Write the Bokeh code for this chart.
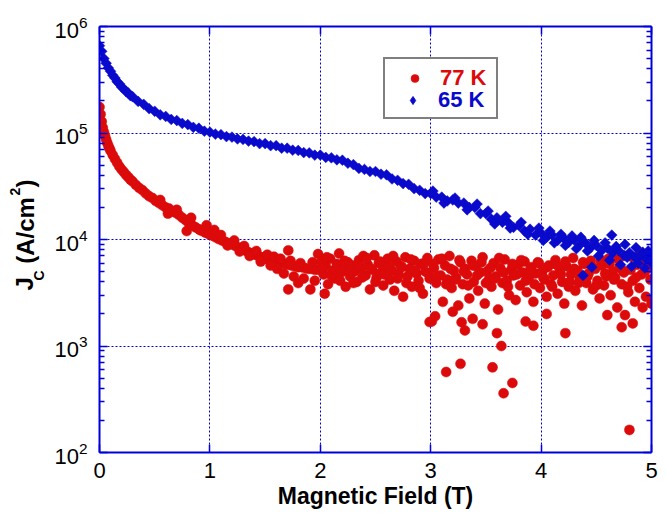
import math
from bokeh.plotting import figure
from bokeh.models import (LinearAxis, FixedTicker, Legend, LegendItem,
                          ColumnDataSource, LogTickFormatter, CustomJSTickFormatter)
from bokeh.embed import file_html
from bokeh.resources import INLINE

# ---------------- data ----------------
field_77 = [
    0.00, 0.01, 0.02, 0.03, 0.04, 0.05, 0.06, 0.07, 0.08, 0.09, 0.10, 0.12, 0.14, 0.16, 0.18, 0.20,
    0.22, 0.24, 0.26, 0.28, 0.30, 0.33, 0.36, 0.39, 0.42, 0.45, 0.48, 0.51, 0.54, 0.57, 0.60, 0.63,
    0.66, 0.69, 0.72, 0.75, 0.78, 0.81, 0.84, 0.87, 0.90, 0.93, 0.96, 0.99, 1.02, 1.05, 1.08, 1.11,
    1.14, 1.17, 1.20, 1.23, 1.26, 1.29, 1.32, 1.35, 1.38, 1.41, 1.44, 1.47, 1.50, 1.53, 1.56, 1.59,
    1.62, 1.65, 1.68, 1.71, 1.74, 1.77, 1.80, 1.83, 1.86, 1.89, 1.92, 1.95, 1.98,
    0.55, 0.62, 0.70, 0.79, 0.83, 0.91, 0.97,
    1.04, 1.10, 1.16, 1.22, 1.27, 1.31, 1.36, 1.42, 1.46, 1.52, 1.55, 1.58, 1.61, 1.64, 1.67, 1.71,
    1.71, 1.73, 1.76, 1.80, 1.82, 1.85, 1.91, 1.93, 1.95, 1.98, 2.04,
    2.01, 2.03, 2.05, 2.07, 2.09, 2.11, 2.13, 2.15, 2.17, 2.19, 2.21, 2.23, 2.25, 2.27, 2.29, 2.31,
    2.33, 2.35, 2.37, 2.39, 2.41, 2.43, 2.45, 2.47, 2.49, 2.51, 2.53, 2.55, 2.57, 2.59, 2.61, 2.63,
    2.65, 2.67, 2.69, 2.71, 2.73, 2.75, 2.77, 2.79, 2.81, 2.83, 2.85, 2.87, 2.89, 2.91, 2.93, 2.95,
    2.97, 2.99, 3.01, 3.03, 3.05, 3.07, 3.09, 3.11, 3.13, 3.15, 3.17, 3.19, 3.21, 3.23, 3.25, 3.27,
    3.29, 3.31, 3.33, 3.35, 3.37, 3.39, 3.41, 3.43, 3.45, 3.47, 3.49, 3.51, 3.53, 3.55, 3.57, 3.59,
    3.61, 3.63, 3.65, 3.67, 3.69, 3.71, 3.73, 3.75, 3.77, 3.79, 3.81, 3.83, 3.85, 3.87, 3.89, 3.91,
    3.93, 3.95, 3.97, 3.99, 4.01, 4.03, 4.05, 4.07, 4.09, 4.11, 4.13, 4.15, 4.17, 4.19, 4.21, 4.23,
    4.25, 4.27, 4.29, 4.31, 4.33, 4.35, 4.37, 4.39, 4.41, 4.43, 4.45, 4.47, 4.49, 4.51, 4.53, 4.55,
    4.57, 4.59, 4.61, 4.63, 4.65, 4.67, 4.69, 4.71, 4.73, 4.75, 4.77, 4.79, 4.81, 4.83, 4.85, 4.87,
    4.89, 4.91, 4.93, 4.95, 4.97, 4.99, 5.00,
    2.02, 2.06, 2.10, 2.14, 2.18, 2.22, 2.26, 2.30, 2.34, 2.38, 2.42, 2.46, 2.50, 2.54, 2.58, 2.62,
    2.66, 2.70, 2.74, 2.78, 2.82, 2.86, 2.90, 2.94, 2.98, 3.02, 3.06, 3.10, 3.14, 3.18, 3.22, 3.26,
    3.30, 3.34, 3.38, 3.42, 3.46, 3.50, 3.54, 3.58, 3.62, 3.66, 3.70, 3.74, 3.78, 3.82, 3.86, 3.90,
    3.94, 3.98, 4.02, 4.06, 4.10, 4.14, 4.18, 4.22, 4.26, 4.30, 4.34, 4.38, 4.42, 4.46, 4.50, 4.54,
    4.58, 4.62, 4.66, 4.70, 4.74, 4.78, 4.82, 4.86, 4.90, 4.94, 4.98,
    2.99, 3.14, 3.27, 3.28, 3.31, 3.47, 3.56, 3.60, 3.64, 3.66, 3.74, 3.86, 3.93, 4.22, 4.73, 4.80,
    4.83, 3.04, 3.20, 3.38, 4.05, 4.60, 4.76, 4.92,
]
jc_77 = [
    175000, 150000, 128000, 112000, 102000, 94000, 87000, 81000, 76000, 72000, 68000, 62000, 57000, 52500, 48500, 45500,
    43000, 40500, 38500, 36500, 35000, 32500, 30500, 29000, 27000, 25500, 24500, 23000, 22000, 21000, 20000, 19500,
    18500, 17800, 17000, 16000, 15200, 14200, 13600, 13000, 12500, 12000, 11600, 11200, 10900, 10500, 10100, 9800,
    9500, 9200, 9000, 8700, 8400, 8100, 7900, 7600, 7400, 7200, 7000, 6800, 6600, 6500, 6300, 6200,
    6100, 6000, 5900, 5800, 5700, 5600, 5500, 5500, 5400, 5300, 5300, 5200, 5200,
    23500, 17500, 19000, 12000, 16000, 12300, 13600,
    12300, 11000, 8800, 9800, 7700, 8700, 7000, 7800, 6200, 7200, 5700, 6900, 5300, 6600, 4800, 7900,
    3400, 6300, 4500, 3900, 6000, 4300, 3400, 6100, 4100, 7300, 3100,
    6200, 4700, 5600, 3800, 6600, 5100, 4300, 5900, 7400, 4900, 5400, 3600, 6100, 4500, 5700, 5000,
    4000, 6400, 5300, 7000, 4600, 5800, 3400, 5200, 7100, 4400, 6000, 4900, 3700, 5500, 6600, 4200,
    5100, 3300, 6200, 4700, 5600, 2900, 6800, 4500, 5300, 3600, 6300, 4800, 4100, 5900, 3100, 5000,
    6700, 4300, 1700, 5400, 3900, 6500, 4600, 2600, 5700, 4200, 7000, 3500, 5100, 4400, 2400, 6100,
    3800, 5300, 4700, 2800, 6300, 4000, 5600, 3300, 4900, 6800, 2500, 5000, 4300, 3600, 6000, 4500,
    2200, 5400, 3900, 6500, 4100, 3000, 5200, 4600, 2700, 5800, 3700, 4900, 6200, 3200, 4400, 5500,
    2600, 4800, 6100, 3500, 5000, 4200, 2900, 5700, 3800, 4600, 6400, 3100, 5200, 4000, 2500, 5600,
    3600, 4700, 6700, 3300, 5100, 4300, 2400, 5900, 3900, 4800, 6300, 3400, 5300, 4100, 2800, 5700,
    3700, 4500, 6600, 3000, 5000, 4400, 2300, 5500, 3800, 4900, 7000, 3200, 5200, 4100, 2600, 5800,
    3500, 4700, 6400, 2900, 5400, 4200, 2500,
    5400, 6800, 4600, 5200, 4100, 6300, 5000, 3900, 5800, 4400, 6700, 5300, 4000, 6200, 4700, 5600,
    7000, 4300, 5500, 3900, 6500, 5100, 3500, 6000, 4800, 5900, 4500, 6600, 3800, 5300, 4200, 6400,
    5000, 3700, 5700, 4600, 6100, 3900, 5400, 4300, 6700, 4900, 3600, 5900, 4700, 6400, 4100, 5200,
    3800, 6000, 4400, 5500, 3600, 5800, 4700, 6200, 4000, 5300, 3900, 6100, 4500, 5600, 3700, 6300,
    4800, 5900, 4200, 6500, 5100, 3600, 6900, 4400, 7400, 5000, 6600,
    1680, 570, 680, 1670, 1400, 1600, 630, 1320, 1000, 360, 450, 1700, 1550, 1320, 1500, 163,
    1630, 1900, 2100, 1800, 2000, 1950, 1950, 2300,
]

field_65 = [
    0.00, 0.02, 0.04, 0.06, 0.08, 0.10, 0.12, 0.14, 0.16, 0.18, 0.20, 0.22, 0.24, 0.26, 0.28, 0.30,
    0.35, 0.40, 0.45, 0.50, 0.55, 0.60, 0.65, 0.70, 0.75, 0.80, 0.85, 0.90, 0.95, 1.00, 1.05, 1.10,
    1.15, 1.20, 1.25, 1.30, 1.35, 1.40, 1.45, 1.50, 1.55, 1.60, 1.65, 1.70, 1.75, 1.80, 1.85, 1.90,
    1.95, 2.00, 2.05, 2.10, 2.15, 2.20, 2.25, 2.30, 2.35, 2.40, 2.45, 2.50, 2.55, 2.60, 2.65, 2.70,
    2.75, 2.80, 2.85, 2.90, 2.95, 3.00, 3.05, 3.10, 3.15, 3.20, 3.25, 3.30, 3.35, 3.40, 3.45, 3.50,
    3.55, 3.60, 3.65, 3.70, 3.75, 3.80, 3.85, 3.90, 3.95, 4.00, 4.05, 4.10, 4.15, 4.20, 4.25, 4.30,
    4.35, 4.40, 4.45, 4.50, 4.55, 4.60, 4.65, 4.70, 4.75, 4.80, 4.85, 4.90, 4.95, 5.00,
    3.02, 3.12, 3.22, 3.33, 3.42, 3.52, 3.58, 3.68, 3.72, 3.82, 3.88, 3.98, 4.02, 4.08, 4.12, 4.18,
    4.22, 4.28, 4.32, 4.36, 4.38, 4.42, 4.46, 4.48, 4.52, 4.58, 4.62, 4.64, 4.68, 4.72, 4.76, 4.78,
    4.82, 4.86, 4.88, 4.92, 4.94, 4.97, 4.99,
]
jc_65 = [
    660000, 585000, 500000, 452000, 408000, 380000, 348000, 328000, 303000, 290000, 270000, 260000, 245000, 238000, 224000, 219000,
    198000, 186000, 169000, 160000, 148000, 143000, 134000, 131000, 123000, 120000, 113000, 111000, 104000, 102000, 97500, 96500,
    92500, 91500, 88000, 87000, 84000, 83000, 79500, 79500, 76000, 76000, 72000, 72000, 69000, 68500, 65500, 65000,
    62000, 62000, 59000, 58500, 56000, 55500, 52000, 50500, 46500, 45500, 43500, 43500, 41000, 40500, 37000, 36000,
    33500, 33000, 30000, 29000, 27000, 27000, 25000, 25000, 23000, 23500, 22000, 22000, 20000, 20000, 17500, 17500,
    15500, 16000, 14500, 14500, 13000, 13500, 12000, 12500, 11000, 11500, 10500, 11000, 9800, 10400, 9400, 9900,
    8900, 9300, 8400, 8800, 7900, 8300, 7500, 7900, 7100, 7500, 6800, 7100, 6600, 6900,
    28500, 22000, 24500, 19000, 21500, 18500, 14000, 16500, 12800, 14500, 11200, 12800, 9800, 12000, 9300, 11200,
    8800, 10800, 8200, 10500, 4600, 7800, 5500, 9800, 7000, 9300, 6400, 11000, 8600, 5800, 9000, 6800,
    5600, 8400, 6000, 7600, 5400, 7800, 6200,
]

x_ticks = [0, 1, 2, 3, 4, 5]
y_ticks = [1e2, 1e3, 1e4, 1e5, 1e6]
legend_labels = ["77 K", "65 K"]
x_title = "Magnetic Field (T)"
# y title "J_C (A/cm^2)" split into main / subscript / superscript pieces
y_title_main = ["J", "(A/cm", ")"]
y_title_sub = ["C"]
y_title_sup = ["2"]

# ---------------- style ----------------
RED = "#dc0a0a"
BLUE = "#0a0acc"
AXIS = "#0000dd"
FONT = "Liberation Sans"
FRAME_H = 426

p = figure(frame_width=552, frame_height=FRAME_H, x_range=(0, 5), y_range=(1e2, 1e6),
           y_axis_type="log", output_backend="svg", toolbar_location=None,
           min_border_left=99, min_border_right=16, min_border_top=26, min_border_bottom=61)
p.outline_line_color = None
p.background_fill_color = "white"

src77 = ColumnDataSource(dict(x=field_77, y=jc_77))
src65 = ColumnDataSource(dict(x=field_65, y=jc_65))
# one-point diamond used only as the legend key; it sits hidden under the first 65 K marker
key65 = p.scatter(x=field_65[:1], y=jc_65[:1], marker="diamond", size=8,
                  fill_color=BLUE, line_color=BLUE)
r77 = p.scatter("x", "y", source=src77, marker="circle", size=10,
                fill_color=RED, line_color=RED, line_width=0.5)
r65 = p.scatter("x", "y", source=src65, marker="square", size=7.6, angle=math.pi / 4,
                fill_color=BLUE, line_color=BLUE, line_width=0.5)

minor_y = [k * 10 ** e for e in range(2, 6) for k in range(2, 10)]


def style(ax, show_labels):
    ax.axis_line_color = AXIS
    ax.axis_line_width = 2
    ax.major_tick_line_color = AXIS
    ax.major_tick_line_width = 1.5
    ax.major_tick_in = 8
    ax.major_tick_out = 0
    ax.minor_tick_line_color = AXIS
    ax.minor_tick_line_width = 1.5
    ax.minor_tick_in = 5
    ax.minor_tick_out = 0
    ax.major_label_text_font = FONT
    ax.major_label_text_color = "black"
    if show_labels:
        ax.major_label_text_font_size = "22px"
    else:
        ax.formatter = CustomJSTickFormatter(code="return ' ';")
        ax.major_label_text_font_size = "2px"
        ax.major_label_standoff = 0


p.xaxis.ticker = FixedTicker(ticks=x_ticks, minor_ticks=[])
p.yaxis.ticker = FixedTicker(ticks=y_ticks, minor_ticks=minor_y)
p.yaxis.formatter = LogTickFormatter()
style(p.xaxis[0], True)
style(p.yaxis[0], True)
p.xaxis.major_label_standoff = 10
p.yaxis.major_label_standoff = 12
p.xaxis.axis_label = x_title
p.xaxis.axis_label_text_font = FONT
p.xaxis.axis_label_text_font_size = "23px"
p.xaxis.axis_label_text_font_style = "bold"
p.xaxis.axis_label_text_color = "black"
p.xaxis.axis_label_standoff = 2

top = LinearAxis(ticker=FixedTicker(ticks=x_ticks, minor_ticks=[]))
style(top, False)
p.add_layout(top, "above")
right = LinearAxis(ticker=FixedTicker(ticks=y_ticks, minor_ticks=minor_y))
style(right, False)
p.add_layout(right, "right")

for g in (p.xgrid[0], p.ygrid[0]):
    g.grid_line_color = AXIS
    g.grid_line_dash = "2 2"
    g.grid_line_width = 1


# y title: bare left axes whose tick labels carry the rotated text pieces.
# positions are given as pixel offsets from the frame top, converted to the log scale.
def px_to_y(px_from_top):
    return 10 ** (6 - 4 * px_from_top / FRAME_H)


def title_axis(texts, px_centres, size, standoff):
    ax = LinearAxis(ticker=FixedTicker(ticks=[px_to_y(c) for c in px_centres], minor_ticks=[]),
                    formatter=CustomJSTickFormatter(args=dict(t=texts), code="return t[index];"))
    ax.axis_line_color = None
    ax.major_tick_line_color = None
    ax.minor_tick_line_color = None
    ax.major_tick_in = 0
    ax.major_tick_out = 0
    ax.major_label_orientation = "vertical"
    ax.major_label_standoff = standoff
    ax.major_label_text_font = FONT
    ax.major_label_text_font_size = size
    ax.major_label_text_font_style = "bold"
    ax.major_label_text_color = "black"
    p.add_layout(ax, "left")


title_axis(y_title_sub, [249], "14px", 5)
title_axis(y_title_main, [257.4, 204, 157], "24px", -11)
title_axis(y_title_sup, [165], "14px", -11)

# legend: bordered box (red text, second row left blank) and a borderless
# legend that writes the blue second row into that blank space
common = dict(glyph_width=47, glyph_height=20, label_standoff=2, label_width=50,
              label_text_font=FONT, label_text_font_size="22px",
              label_text_font_style="bold", margin=0,
              background_fill_color="white", background_fill_alpha=1)
legend_a = Legend(items=[LegendItem(label=legend_labels[0], renderers=[r77]),
                         LegendItem(label=" ", renderers=[key65])],
                  location=(284, 333), border_line_color="black", border_line_width=2,
                  padding=6, spacing=0, label_text_color=RED, **common)
legend_b = Legend(items=[LegendItem(label=legend_labels[1], renderers=[key65])],
                  location=(290, 339), border_line_color=None, padding=0, spacing=0,
                  label_text_color=BLUE, **common)
p.add_layout(legend_a)
p.add_layout(legend_b)

open("out.html", "w").write(file_html(p, INLINE))
